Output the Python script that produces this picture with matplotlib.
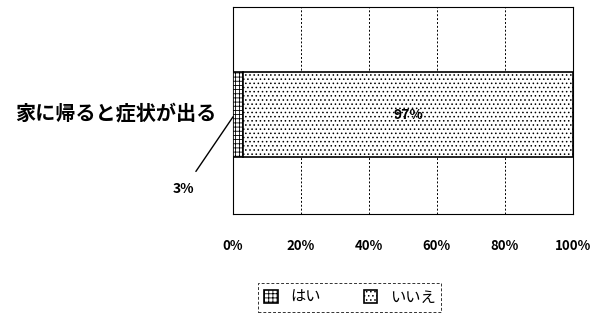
import matplotlib.pyplot as plt
import numpy as np

plt.rcParams['font.family'] = ['Noto Sans CJK JP', 'DejaVu Sans']
plt.rcParams['hatch.linewidth'] = 0.6

# Data
category = ["家に帰ると症状が出る"]
series_names = ["はい", "いいえ"]
values = [3, 97]
hatches = ["++++", "...."]
tick_vals = [0, 20, 40, 60, 80, 100]
tick_labels = ["0%", "20%", "40%", "60%", "80%", "100%"]

fig = plt.figure(figsize=(5.93, 3.2), dpi=100)
ax = fig.add_axes([0.393, 0.331, 0.573, 0.647])

left = 0
handles = []
for name, v, h in zip(series_names, values, hatches):
    b = ax.barh(-0.02, v, left=left, height=0.41, color="white", edgecolor="black",
                hatch=h, linewidth=1.2, label=name, zorder=3)
    handles.append(b)
    left += v

ax.set_xlim(0, 100)
ax.set_ylim(-0.5, 0.5)
ax.set_xticks(tick_vals)
ax.set_xticklabels(tick_labels, fontsize=9.5, fontweight="bold")
ax.tick_params(axis="x", length=0, pad=18)
ax.set_yticks([])
ax.grid(axis="x", linestyle=(0, (2, 2)), color="black", linewidth=0.7, zorder=0)
for s in ax.spines.values():
    s.set_linewidth(0.8)
    s.set_linestyle((0, (1, 1)))
ax.spines["left"].set_linestyle("-")

# Category label
ax.text(-0.05, 0.49, category[0], transform=ax.transAxes, ha="right", va="center",
        fontsize=14.5, fontweight="bold")

# Data labels
ax.text(values[0] + values[1] / 2, -0.02, f"{values[1]}%", ha="center", va="center",
        fontsize=10, fontweight="bold", zorder=4)
ax.annotate(f"{values[0]}%", xy=(values[0] / 2 - 1.5, -0.03), xytext=(-14.5, -0.38),
            ha="center", va="center", fontsize=10, fontweight="bold",
            arrowprops=dict(arrowstyle="-", color="black", linewidth=1.0,
                            shrinkA=7, shrinkB=0),
            annotation_clip=False)

leg = fig.legend(handles=handles, labels=series_names, loc="center",
                 bbox_to_anchor=(0.59, 0.07), ncol=2, frameon=True, fancybox=False,
                 fontsize=11, handlelength=0.9, handleheight=0.9, columnspacing=2.8,
                 borderpad=0.4)
leg.get_frame().set_edgecolor("black")
leg.get_frame().set_linestyle((0, (3, 2)))
leg.get_frame().set_linewidth(0.7)

fig.savefig("out.png", dpi=100)
